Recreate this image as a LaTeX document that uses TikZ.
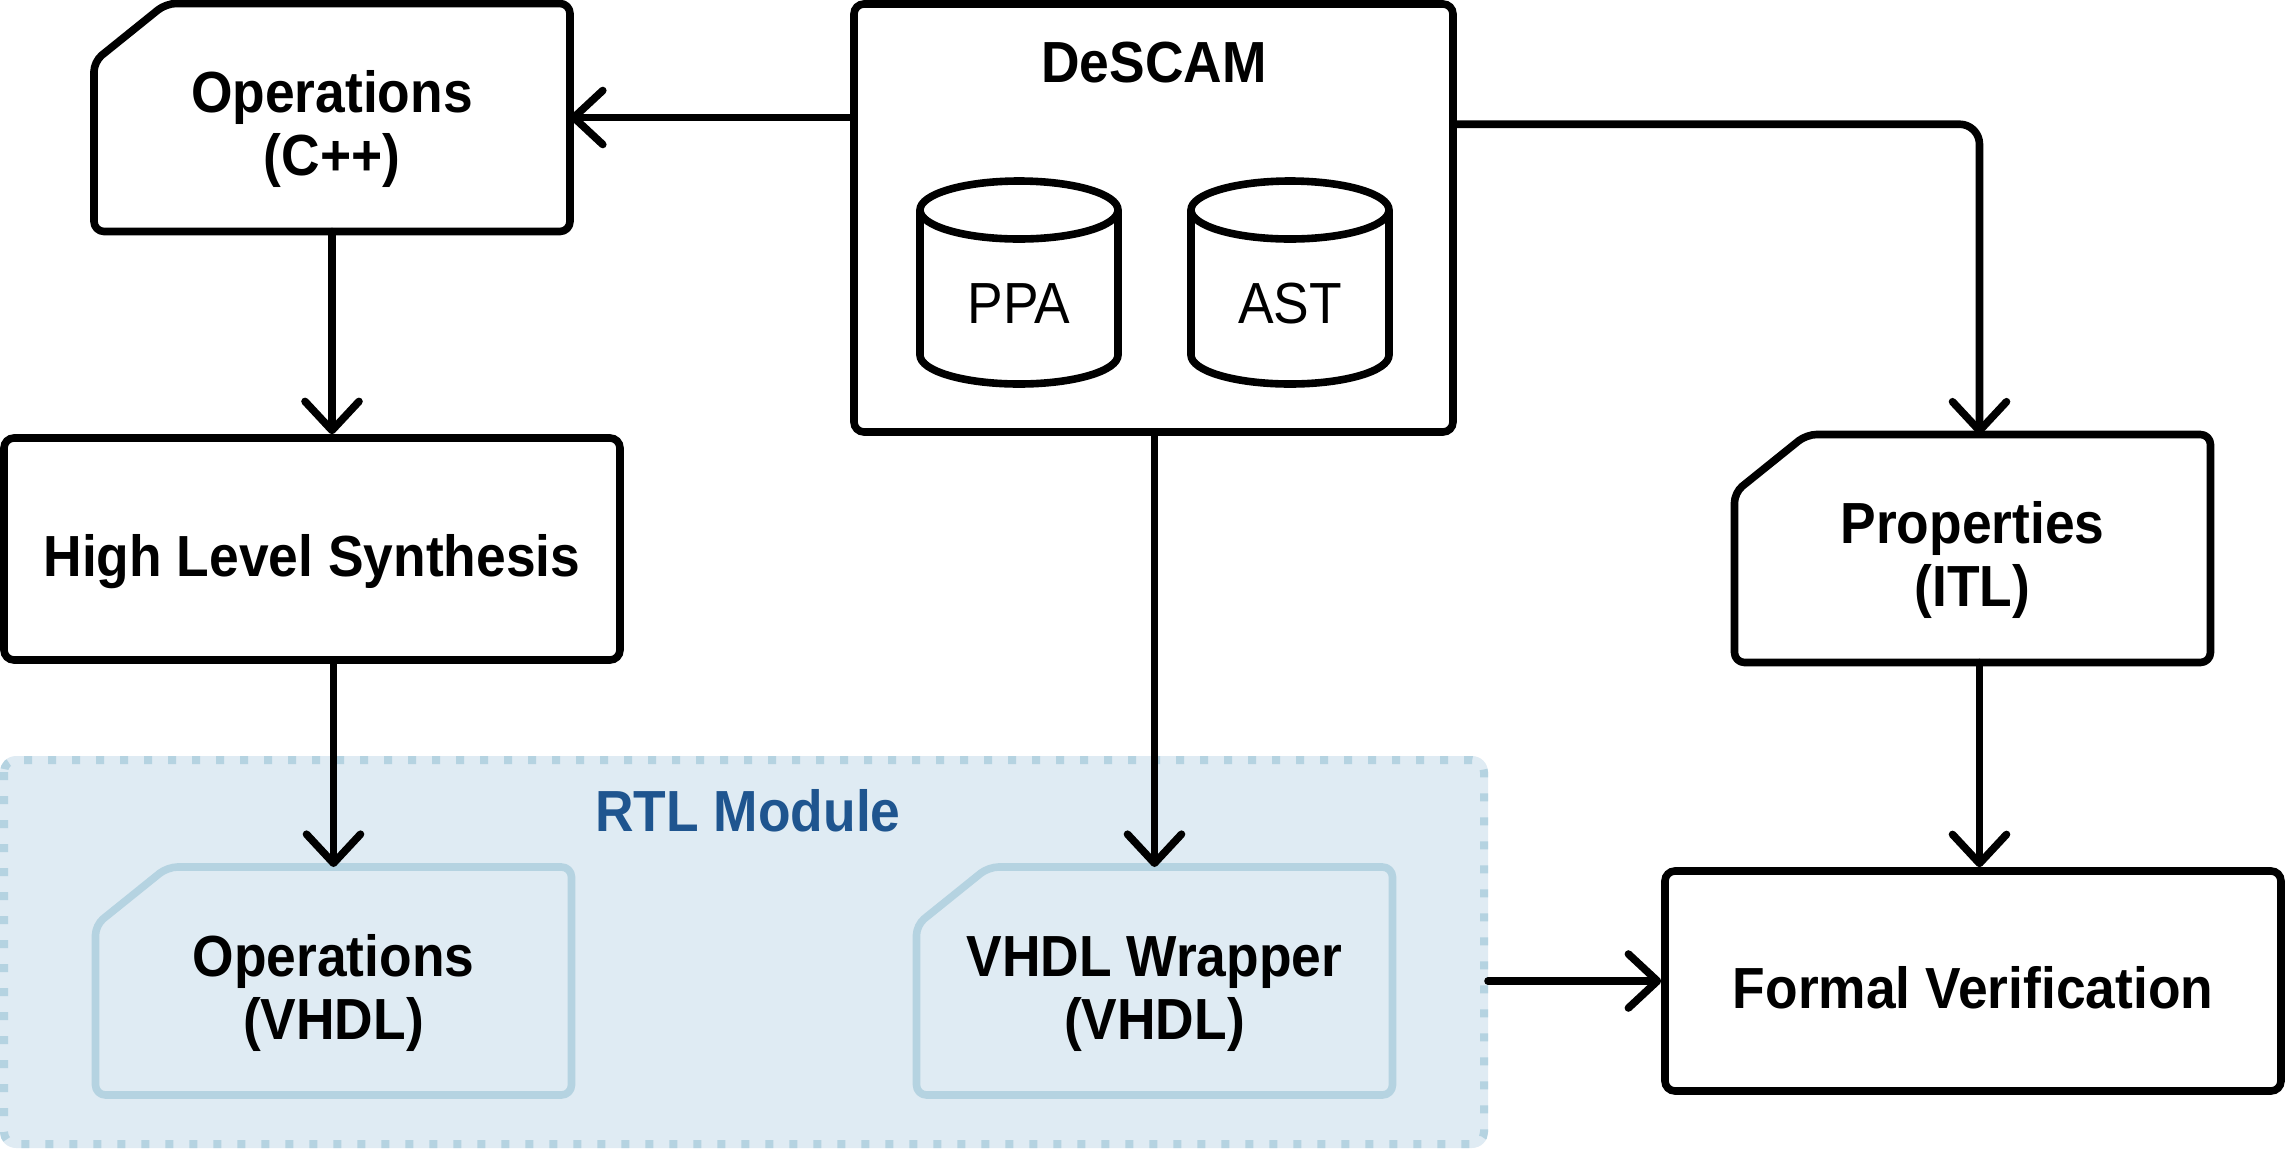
\documentclass[tikz,border=0pt]{standalone}
\usepackage{fontspec}
\setmainfont{Liberation Sans}[FakeStretch=0.92]
\usepackage{tikz}
\usetikzlibrary{arrows.meta}
\definecolor{rtlfill}{HTML}{DFEBF3}
\definecolor{rtlline}{HTML}{B5D3E1}
\definecolor{rtltext}{HTML}{1F558F}

\begin{document}
\begin{tikzpicture}[x=0.5pt,y=-0.5pt,line width=3.8pt,
	box node/.style={rectangle,draw,rounded corners=5pt,align=center,
		text height=27pt,text depth=0pt,
		font=\fontsize{29}{31.5}\selectfont\bfseries},
	doc node/.style={rectangle,outer sep=0pt,align=center,
		text height=58pt,text depth=0pt,
		minimum width=238pt,minimum height=114pt,
		font=\fontsize{29}{31.5}\selectfont\bfseries},
	doc line/.style={draw,rounded corners=5pt,line join=round},
	db label/.style={font=\fontsize{29}{31.5}\selectfont},
	flow arrow/.style={-{Straight Barb[length=14.5pt,width=27pt,round]},line cap=round}]

	\useasboundingbox (0,0) rectangle (2288,1148);

	% RTL group
	\node[fill=rtlfill,rounded corners=8pt,outer sep=0pt,
		minimum width=744pt,minimum height=196pt] (RTL) at (744,952) {};
	\draw[rtlline,line width=4pt,dash pattern=on 4pt off 8pt,rounded corners=6pt]
		([shift={(2pt,-2pt)}]RTL.north west) rectangle ([shift={(-2pt,2pt)}]RTL.south east);
	\node[text=rtltext,font=\fontsize{29}{31.5}\selectfont\bfseries] (RTLT) at (748,811) {RTL Module};

	\node[doc node] (OPC) at (332,117.5) {Operations\\(C++)};
	\node[box node,minimum width=299.5pt,minimum height=214pt] (DS) at (1153.5,218) {};
	\node[font=\fontsize{29}{31.5}\selectfont\bfseries] (DST) at (1154,63) {DeSCAM};
	\node[box node,minimum width=308pt,minimum height=111pt] (HLS) at (312,549) {High Level Synthesis};
	\node[doc node] (PRP) at (1972.5,548.5) {Properties\\(ITL)};
	\node[box node,minimum width=308pt,minimum height=110pt] (FV) at (1973,981) {Formal Verification};
	\node[doc node] (OPV) at (333.5,981) {Operations\\(VHDL)};
	\node[doc node] (WRP) at (1154.5,981) {VHDL Wrapper\\(VHDL)};

	% card outlines
	\foreach \n/\c in {OPC/black,PRP/black,OPV/rtlline,WRP/rtlline}
		\draw[doc line,\c] ([xshift=36pt]\n.north west) -- (\n.north east) -- (\n.south east)
			-- (\n.south west) -- ([yshift=-29pt]\n.north west) -- cycle;

	% databases
	\foreach \n/\x in {PPA/1019,AST/1290} {
		\draw (\x-99,210) -- (\x-99,355) arc[start angle=180,end angle=360,x radius=49.5pt,y radius=14.5pt] -- (\x+99,210);
		\draw (\x,210) ellipse[x radius=49.5pt,y radius=14.5pt];
		\node[db label] (\n) at (\x,304) {\n};
	}

	\path[flow arrow]
		(DS.west |- OPC.east) edge (OPC.east)
		(OPC.south) edge (OPC.south |- HLS.north)
		(HLS.south -| OPV.north) edge (OPV.north)
		(DS.south -| WRP.north) edge (WRP.north)
		([xshift=3.5pt]PRP.south) edge ([xshift=3.5pt]PRP.south |- FV.north)
		(RTL.east |- FV.west) edge (FV.west);
	\draw[flow arrow,rounded corners=10pt] ([yshift=-62pt]DS.north east) -| ([xshift=3.5pt]PRP.north);
\end{tikzpicture}
\end{document}
